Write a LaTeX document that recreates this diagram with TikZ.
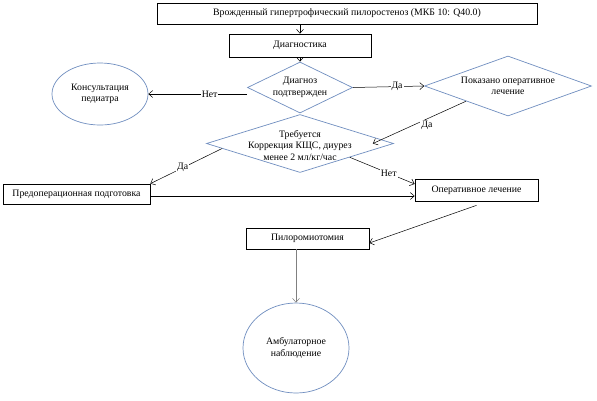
\documentclass[tikz,border=0pt]{standalone}
\usepackage{fontspec}
\setmainfont{Liberation Serif}
\usepackage{xcolor}
\usepackage{tikz}
\usetikzlibrary{arrows.meta, shapes.geometric, calc}
\definecolor{shapeblue}{RGB}{112,142,192}

\begin{document}
\begin{tikzpicture}[x=1pt, y=-1pt, font=\fontsize{9.8}{11.5}\selectfont,
		box/.style={draw, line width=0.7pt, inner sep=0pt, minimum height=21pt},
		dia/.style={diamond, draw=shapeblue, line width=0.7pt, inner sep=0pt},
		ell/.style={ellipse, draw=shapeblue, line width=0.7pt, inner sep=0pt, align=center},
		arr/.style={-{Straight Barb[length=4pt, width=7pt]}, line width=0.5pt},
		lbl/.style={fill=white, inner sep=1pt}]
			\useasboundingbox (0, 0) rectangle (597, 400);
			\fill[white] (0, 0) rectangle (597, 400);
			% Boxes, diamonds and ellipses:
			\node[box, minimum width=380pt](B1) at (347, 13.5){Врожденный гипертрофический пилоростеноз (МКБ 10: Q40.0)};
			\node[box, minimum width=142pt, minimum height=23pt](B2) at (300, 45.5){Диагностика};
			\node[dia, minimum width=105pt, minimum height=51pt, label={[align=center]center:{Диагноз\\подтвержден}}](D1) at (300, 87.5){};
			\node[ell, minimum width=96pt, minimum height=62pt](E1) at (100, 94){Консультация\\педиатра};
			\node[dia, minimum width=167pt, minimum height=60pt, label={[align=center]center:{Показано оперативное\\лечение}}](D2) at (508, 86){};
			\node[dia, minimum width=187pt, minimum height=58pt, label={[align=center, yshift=-2pt]center:{Требуется\\Коррекция КЩС, диурез\\менее 2 мл/кг/час}}](D3) at (300, 143.5){};
			\node[box, minimum width=147pt, minimum height=20pt](B3) at (76.5, 194){Предоперационная подготовка};
			\node[box, minimum width=123pt, minimum height=22pt](B4) at (476.5, 190){Оперативное лечение};
			\node[box, minimum width=123pt](B5) at (307.5, 238.5){Пилоромиотомия};
			\node[ell, minimum width=106pt, minimum height=90pt](E2) at (296, 348){Амбулаторное\\наблюдение};
			% Connectors:
			\draw[arr] (B1.south -| B2.north) -- (B2.north);
			\draw[arr] (B2.south) -- (D1.north);
			\draw[arr] (D1.west |- E1.east) -- node[lbl, pos=0.38]{Нет} (E1.east);
			\draw[arr] (D1.east) -- node[lbl, pos=0.62]{Да} (D2.west);
			\draw[arr] (D2.south west) -- node[lbl, pos=0.42, yshift=-6pt]{Да} ([xshift=-21pt]D3.east);
			\draw[arr] ($(D3.west)!0.17!(D3.south)$) -- node[lbl, pos=0.55]{Да} (B3.north east);
			\draw[arr] ($(D3.east)!0.47!(D3.south)$) -- node[lbl, pos=0.6]{Нет} ([yshift=6pt]B4.west);
			\draw[arr] ([yshift=-2pt]B3.east) -- ([yshift=-2pt]B3.east -| B4.west);
			\draw[arr] ([yshift=-4pt]B4.south) -- ([yshift=-4.5pt]B5.east);
			\draw[arr, draw=gray] (B5.south -| E2.north) -- (E2.north);
		\end{tikzpicture}
\end{document}
